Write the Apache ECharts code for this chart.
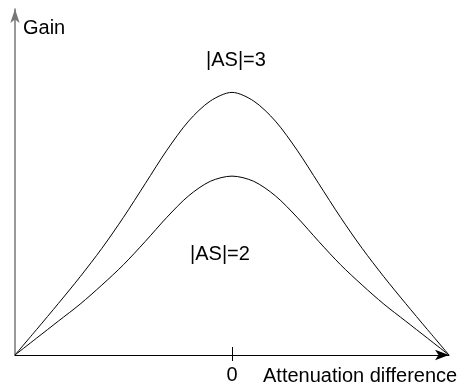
<!DOCTYPE html>
<html>
<head>
<meta charset="utf-8">
<script src="https://cdn.jsdelivr.net/npm/echarts@6/dist/echarts.min.js"></script>
<style>
  html, body { margin: 0; padding: 0; background: #fff; }
  #chart { width: 460px; height: 385px; }
</style>
</head>
<body>
<div id="chart"></div>
<script>
// attenuation difference, normalised to -1..1
var xValues = [-1, -0.9, -0.8, -0.7, -0.6, -0.5, -0.4, -0.3, -0.2, -0.1, 0,
  0.1, 0.2, 0.3, 0.4, 0.5, 0.6, 0.7, 0.8, 0.9, 1]
// gain (arbitrary units, axis top = 100)
var gainAS3 = [0, 7.4, 14.9, 22.6, 30.8, 39.8, 49.5, 59.2, 67.6, 73.4, 75.9,
  73.4, 67.6, 59.2, 49.5, 39.8, 30.8, 22.6, 14.9, 7.4, 0]
var gainAS2 = [0, 4.9, 9.8, 14.7, 20.2, 26.1, 32.8, 39.8, 46.0, 50.2, 51.7,
  50.2, 46.0, 39.8, 32.8, 26.1, 20.2, 14.7, 9.8, 4.9, 0]
var tickValues = [0]

function pairs(ys) {
  return xValues.map(function (x, i) { return [x, ys[i]] })
}

var font = 'Liberation Sans, Arial, sans-serif'
var chart = echarts.init(document.getElementById('chart'))
var option = {
  animation: false,
  grid: { left: 15, right: 11, top: 9, bottom: 28 },
  xAxis: [
    {
      type: 'value',
      min: -1,
      max: 1,
      axisLine: {
        onZero: false,
        lineStyle: { color: '#000', width: 1 },
        symbol: ['none', 'arrow'],
        symbolSize: [8, 14]
      },
      axisTick: { show: true, customValues: tickValues, length: 6, lineStyle: { color: '#000' } },
      axisLabel: {
        show: true,
        customValues: tickValues,
        margin: 10,
        color: '#000',
        fontFamily: font,
        fontSize: 20
      },
      splitLine: { show: false }
    },
    {
      // upper half of the crossing tick at 0
      type: 'value',
      position: 'bottom',
      min: -1,
      max: 1,
      axisLine: { show: false, onZero: false },
      axisTick: { show: true, inside: true, customValues: tickValues, length: 8, lineStyle: { color: '#000' } },
      axisLabel: { show: false },
      splitLine: { show: false }
    }
  ],
  yAxis: {
    type: 'value',
    min: 0,
    max: 100,
    axisLine: {
      show: true,
      onZero: false,
      lineStyle: { color: '#777', width: 1.5 },
      symbol: ['none', 'arrow'],
      symbolSize: [7, 14]
    },
    axisTick: { show: false },
    axisLabel: { show: false },
    splitLine: { show: false }
  },
  graphic: [
    { type: 'text', left: 23, top: 18, style: { text: 'Gain', font: '20px ' + font, fill: '#000' } },
    { type: 'text', left: 263, top: 366, style: { text: 'Attenuation difference', font: '20px ' + font, fill: '#000' } },
    { type: 'text', left: 206, top: 50, style: { text: '|AS|=3', font: '20px ' + font, fill: '#000' } },
    { type: 'text', left: 190, top: 244, style: { text: '|AS|=2', font: '20px ' + font, fill: '#000' } }
  ],
  series: [
    {
      name: '|AS|=3',
      type: 'line',
      data: pairs(gainAS3),
      smooth: 0.3,
      showSymbol: false,
      lineStyle: { color: '#000', width: 1 }
    },
    {
      name: '|AS|=2',
      type: 'line',
      data: pairs(gainAS2),
      smooth: 0.3,
      showSymbol: false,
      lineStyle: { color: '#000', width: 1 }
    }
  ]
}
chart.setOption(option)
</script>
</body>
</html>
